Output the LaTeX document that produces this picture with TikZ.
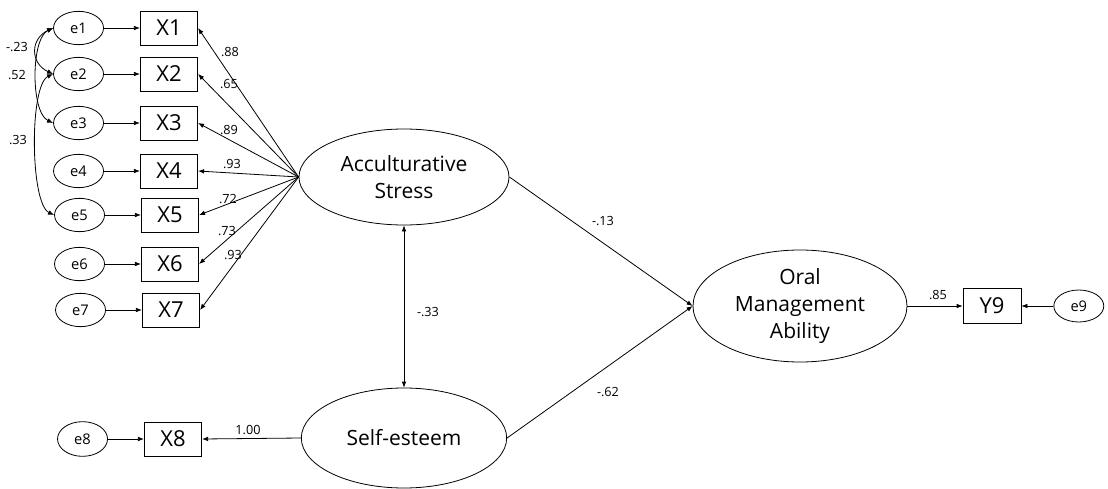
\documentclass[tikz,border=0pt]{standalone}
\usepackage{fontspec}
\setmainfont{Open Sans}
\usetikzlibrary{shapes.geometric,arrows.meta,positioning}

\begin{document}
\begin{tikzpicture}[
    x=0.75pt, y=-0.75pt,
    node distance=27pt,
    err/.style={ellipse, draw, line width=0.6pt, minimum width=37.5pt, minimum height=25pt, inner sep=0pt, font=\fontsize{11}{12}\selectfont},
    obs/.style={rectangle, draw, line width=0.6pt, minimum width=43pt, minimum height=25.5pt, inner sep=0pt, font=\fontsize{16.5}{18}\selectfont},
    latent/.style={ellipse, draw, line width=0.6pt, inner sep=0pt, align=center, font=\fontsize{15.75}{20}\selectfont},
    coef/.style={font=\fontsize{9.5}{10}\selectfont, inner sep=1pt},
    arrow/.style={-{Latex[length=4.5pt,width=3.5pt]}, line width=0.6pt},
    cov/.style={{Latex[length=4.5pt,width=3.5pt]}-{Latex[length=4.5pt,width=3.5pt]}, line width=0.6pt}
]
    \useasboundingbox (0,0) rectangle (1108,489);

    % latent variables
    \node[latent, minimum width=157.5pt, minimum height=72pt] (acc) at (404,177) {Acculturative\\Stress};
    \node[latent, minimum width=154pt, minimum height=75pt] (self) at (404,438) {Self-esteem};
    \node[latent, minimum width=160.5pt, minimum height=84pt] (oral) at (800,306) {Oral\\Management\\Ability};

    % indicators
    \node[obs] (x1) at (169,28) {X1};
    \node[obs] (x2) at (169,74) {X2};
    \node[obs] (x3) at (169,123) {X3};
    \node[obs] (x4) at (169,171) {X4};
    \node[obs] (x5) at (170,215) {X5};
    \node[obs] (x6) at (170,264) {X6};
    \node[obs] (x7) at (171,310) {X7};
    \node[obs] (x8) at (173,439) {X8};
    \node[obs, minimum width=43.5pt, minimum height=26pt] (y9) at (992,306) {Y9};

    % errors
    \node[err, left=of x1] (e1) {e1};
    \node[err, left=of x2] (e2) {e2};
    \node[err, left=of x3] (e3) {e3};
    \node[err, left=of x4] (e4) {e4};
    \node[err, left=of x5] (e5) {e5};
    \node[err, left=of x6] (e6) {e6};
    \node[err, left=of x7] (e7) {e7};
    \node[err, minimum height=26pt, left=of x8] (e8) {e8};
    \node[err, minimum height=24pt, right=24pt of y9] (e9) {e9};

    \draw[arrow] (e1) -- (x1);
    \draw[arrow] (e2) -- (x2);
    \draw[arrow] (e3) -- (x3);
    \draw[arrow] (e4) -- (x4);
    \draw[arrow] (e5) -- (x5);
    \draw[arrow] (e6) -- (x6);
    \draw[arrow] (e7) -- (x7);
    \draw[arrow] (e8) -- (x8);
    \draw[arrow] (e9) -- (y9);

    % loadings
    \draw[arrow] (acc.west) -- (x1.east);
    \draw[arrow] (acc.west) -- (x2.east);
    \draw[arrow] (acc.west) -- (x3.east);
    \draw[arrow] (acc.west) -- (x4.east);
    \draw[arrow] (acc.west) -- (x5.east);
    \draw[arrow] (acc.west) -- (x6.east);
    \draw[arrow] (acc.west) -- (x7.east);
    \draw[arrow] (self.west) -- (x8.east);
    \draw[arrow] (oral.east) -- (y9.west);

    \node[coef] (l1) at (230,52) {.88};
    \node[coef] (l2) at (229,84) {.65};
    \node[coef] (l3) at (229,130) {.89};
    \node[coef] (l4) at (232,164) {.93};
    \node[coef] (l5) at (228,199) {.72};
    \node[coef] (l6) at (227,231) {.73};
    \node[coef] (l7) at (233,255) {.93};
    \node[coef] (l8) at (248,430) {1.00};
    \node[coef] (l9) at (938,295) {.85};

    % structural paths
    \draw[arrow] (acc.east) -- (oral.west);
    \draw[arrow] (self.east) -- (oral.west);
    \draw[cov] (acc.south) -- (self.north);
    \node[coef] (p1) at (603,221) {-.13};
    \node[coef] (p2) at (608,392) {-.62};
    \node[coef] (p3) at (428,312) {-.33};

    % error covariances
    \draw[cov] (e1.west) to[out=205, in=155, looseness=1.42] (e2.west);
    \draw[cov] (e1.west) to[out=205, in=155, looseness=0.67] (e3.west);
    \draw[cov] (e2.west) to[out=205, in=155, looseness=0.48] (e5.west);
    \node[coef] (c1) at (17,47) {-.23};
    \node[coef] (c2) at (17,75) {.52};
    \node[coef] (c3) at (18,140) {.33};
\end{tikzpicture}
\end{document}
